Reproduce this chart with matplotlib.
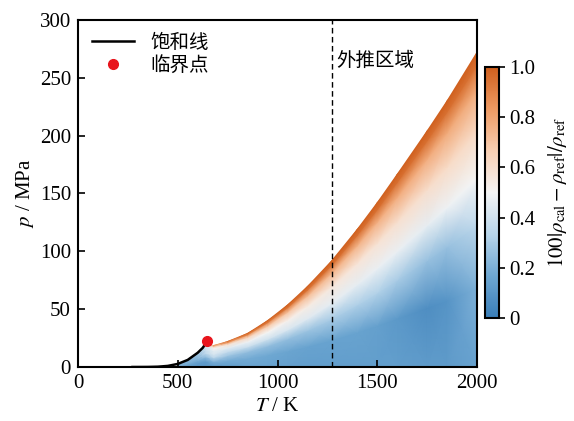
import numpy as np
import matplotlib; matplotlib.use('Agg')
import matplotlib.pyplot as plt
from matplotlib.colors import LinearSegmentedColormap
from matplotlib.lines import Line2D

plt.rcParams['font.family'] = ['Liberation Serif', 'Noto Sans CJK SC']
plt.rcParams['mathtext.fontset'] = 'stix'
plt.rcParams['font.size'] = 14

# 饱和线 (水)
T_sat = [273.16, 300, 350, 400, 450, 500, 550, 600, 625, 647.1]
p_sat = [0.0006, 0.0035, 0.042, 0.25, 0.93, 2.64, 6.12, 12.3, 16.5, 22.06]
T_crit, p_crit = 647.1, 22.06

# 计算区域上边界 (T, p_max)
T_grid = [500, 550, 600, 640, 680, 750, 850, 950, 1050, 1150, 1273,
          1400, 1500, 1600, 1750, 1850, 2000]
p_top = [2.6, 6.1, 12.3, 19.5, 18.5, 22, 29, 40, 53.5, 69.5, 92,
         119, 142, 166.5, 204, 230, 272]
# 相对压力 p / p_max
s_grid = [0.0, 0.25, 0.45, 0.6, 0.75, 0.88, 0.96, 1.0]
# 偏差 (行: s_grid, 列: T_grid)
dev = [
    [0.20, 0.15, 0.12, 0.10, 0.10, 0.12, 0.15, 0.15, 0.14, 0.13, 0.13, 0.13, 0.13, 0.13, 0.12, 0.12, 0.15],
    [0.20, 0.15, 0.12, 0.12, 0.20, 0.18, 0.18, 0.17, 0.16, 0.15, 0.15, 0.15, 0.14, 0.11, 0.07, 0.09, 0.20],
    [0.20, 0.18, 0.18, 0.25, 0.35, 0.28, 0.25, 0.25, 0.25, 0.27, 0.30, 0.31, 0.32, 0.30, 0.26, 0.26, 0.35],
    [0.20, 0.20, 0.22, 0.35, 0.42, 0.36, 0.38, 0.40, 0.42, 0.44, 0.46, 0.46, 0.47, 0.47, 0.46, 0.48, 0.50],
    [0.20, 0.20, 0.25, 0.38, 0.45, 0.45, 0.48, 0.50, 0.52, 0.54, 0.56, 0.57, 0.58, 0.59, 0.60, 0.61, 0.62],
    [0.20, 0.20, 0.28, 0.40, 0.50, 0.58, 0.64, 0.68, 0.70, 0.72, 0.74, 0.75, 0.76, 0.77, 0.77, 0.78, 0.78],
    [0.20, 0.22, 0.30, 0.45, 0.65, 0.82, 0.87, 0.91, 0.93, 0.94, 0.95, 0.95, 0.95, 0.95, 0.95, 0.95, 0.95],
    [0.20, 0.25, 0.30, 0.50, 0.85, 0.95, 1.00, 1.00, 1.00, 1.00, 1.00, 1.00, 1.00, 1.00, 1.00, 1.00, 1.00],
]
T_extrap = 1273

cmap = LinearSegmentedColormap.from_list(
    'bwo', ['#3a7eb8', '#6ea7d2', '#b8d5ea', '#f5f5f5', '#f9cfb2', '#ee9a62', '#d0601e'])

fig = plt.figure(figsize=(5.74, 4.21), dpi=100)
ax = fig.add_axes([0.1359, 0.1283, 0.6951, 0.8242])

X, S = np.meshgrid(T_grid, s_grid)
Y = S * np.array(p_top)[None, :]
mesh = ax.pcolormesh(X, Y, np.array(dev), cmap=cmap, vmin=0, vmax=1,
                     shading='gouraud', rasterized=True)

ax.plot(T_sat, p_sat, color='black', lw=1.8, zorder=3)
ax.plot([T_crit], [p_crit], 'o', color='#e8141c', ms=7, zorder=4)
ax.axvline(T_extrap, color='black', ls='--', lw=1.0, dashes=(4, 2.5))
ax.text(1295, 265, '外推区域', ha='left', va='center', fontsize=14)

ax.set_xlim(0, 2000)
ax.set_ylim(0, 300)
ax.set_xticks([0, 500, 1000, 1500, 2000])
ax.set_yticks([0, 50, 100, 150, 200, 250, 300])
ax.tick_params(direction='in', length=5, width=1.2, labelsize=15, pad=5)
for sp in ax.spines.values():
    sp.set_linewidth(1.5)
ax.set_xlabel(r'$T$ / K', fontsize=15, labelpad=3)
ax.set_ylabel(r'$p$ / MPa', fontsize=15, labelpad=3)

handles = [Line2D([], [], color='black', lw=1.8),
           Line2D([], [], marker='o', ls='none', color='#e8141c', ms=7)]
ax.legend(handles, ['饱和线', '临界点'], loc='upper left', frameon=False,
          fontsize=14, handlelength=2.2, borderaxespad=0.3,
          labelspacing=0.2, bbox_to_anchor=(0.0, 1.0))

cax = fig.add_axes([0.845, 0.2447, 0.024, 0.5962])
cb = fig.colorbar(mesh, cax=cax)
cb.set_ticks([0, 0.2, 0.4, 0.6, 0.8, 1.0])
cb.set_ticklabels(['0', '0.2', '0.4', '0.6', '0.8', '1.0'])
cb.outline.set_linewidth(1.5)
cax.tick_params(length=4, width=1.2, labelsize=15)
cb.set_label(r'$100|\rho_{\rm cal}-\rho_{\rm ref}|/\rho_{\rm ref}$', fontsize=15, labelpad=8)

fig.savefig('out.png', dpi=100)
